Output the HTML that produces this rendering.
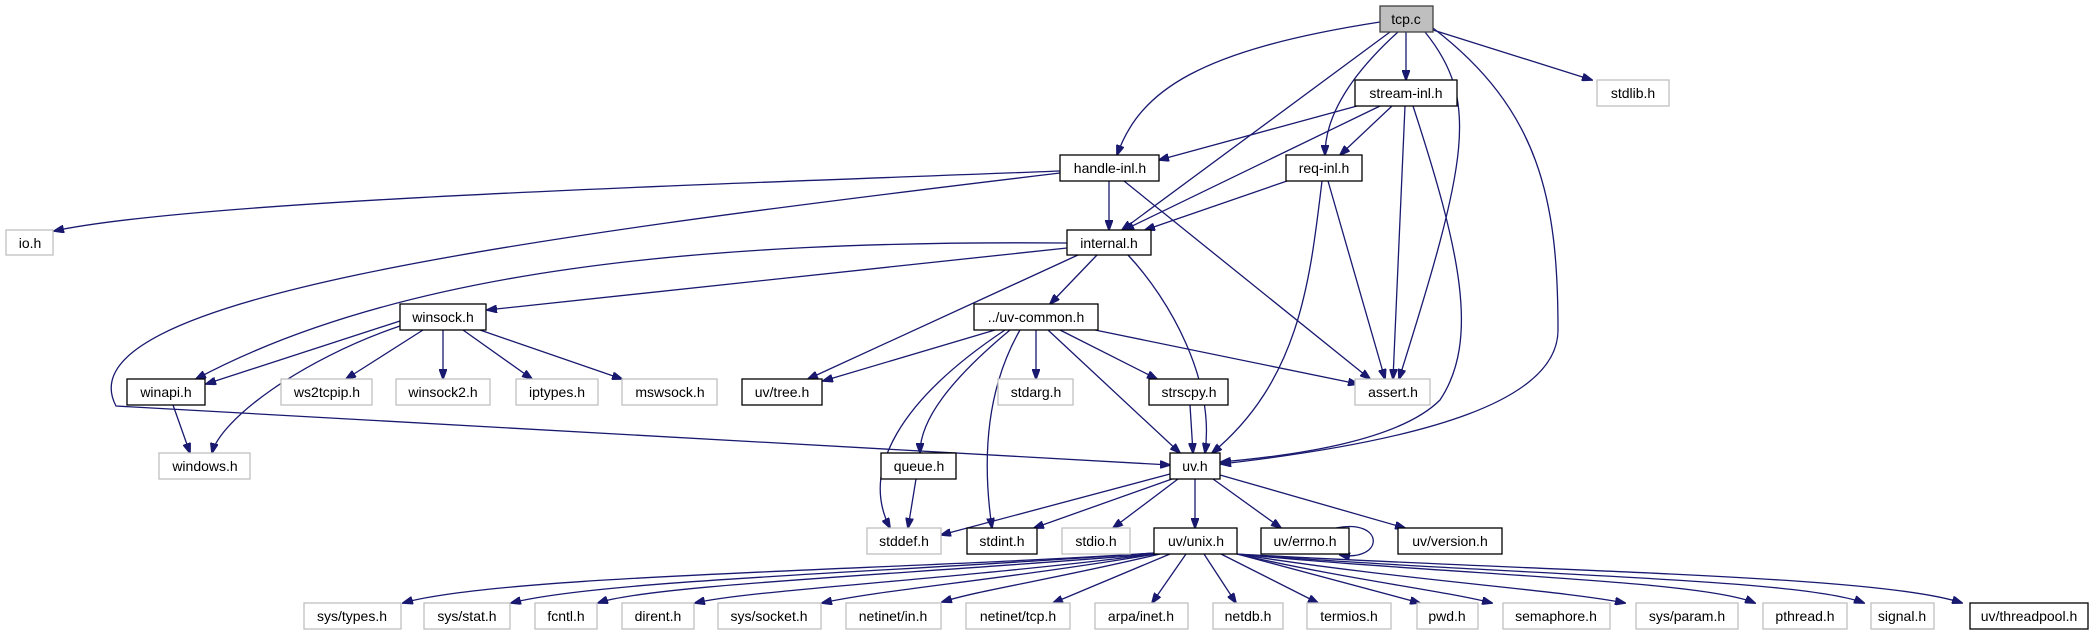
<!DOCTYPE html>
<html><head><meta charset="utf-8"><style>
html,body{margin:0;padding:0;background:#fff;}
svg{display:block;}
text{font-family:"Liberation Sans","DejaVu Sans",sans-serif;font-size:14px;fill:#000;text-anchor:middle;}
.b{fill:#fff;stroke:#000;stroke-width:1.3;}
.g{fill:#fff;stroke:#bfbfbf;stroke-width:1.3;}
.e{fill:none;stroke:#191970;stroke-width:1.3;marker-end:url(#a);}
</style></head><body>
<svg width="2092" height="635" viewBox="0 0 2092 635" xmlns="http://www.w3.org/2000/svg">
<defs><marker id="a" markerUnits="userSpaceOnUse" markerWidth="11" markerHeight="8" refX="10" refY="4" orient="auto"><path d="M0,0 L11,4 L0,8 z" fill="#191970" stroke="#191970"/></marker></defs>
<!-- edges -->
<path class="e" d="M1380 22 C1200 50 1140 90 1117 155"/>
<path class="e" d="M1406 32 L1406 80"/>
<path class="e" d="M1433 30 L1592 80"/>
<path class="e" d="M1390 32 L1122 230"/>
<path class="e" d="M1398 32 C1345 80 1325 120 1325 155"/>
<path class="e" d="M1425 32 C1480 100 1468 160 1399 379"/>
<path class="e" d="M1433 28 C1540 110 1558 200 1558 330 C1558 400 1430 440 1221 464"/>
<path class="e" d="M1357 106 L1159 160"/>
<path class="e" d="M1380 106 L1124 230"/>
<path class="e" d="M1392 106 L1340 155"/>
<path class="e" d="M1405 106 L1393 379"/>
<path class="e" d="M1413 106 C1460 250 1480 340 1440 400 C1400 440 1300 455 1221 462"/>
<path class="e" d="M1060 171 C700 185 200 200 54 231"/>
<path class="e" d="M1060 173 C500 240 60 300 116 406 L1170 465"/>
<path class="e" d="M1109 181 L1109 230"/>
<path class="e" d="M1124 181 L1370 379"/>
<path class="e" d="M1287 181 L1145 230"/>
<path class="e" d="M1328 181 L1385 379"/>
<path class="e" d="M1322 181 C1310 280 1300 380 1212 453"/>
<path class="e" d="M1067 243 C700 240 400 270 196 379"/>
<path class="e" d="M1067 248 L487 310"/>
<path class="e" d="M1078 255 L808 379"/>
<path class="e" d="M1097 255 L1050 304"/>
<path class="e" d="M1128 255 C1170 300 1215 380 1205 453"/>
<path class="e" d="M400 321 L206 384"/>
<path class="e" d="M400 326 C300 360 220 420 212 453"/>
<path class="e" d="M423 330 L346 379"/>
<path class="e" d="M443 330 L443 379"/>
<path class="e" d="M463 330 L532 379"/>
<path class="e" d="M480 330 L622 379"/>
<path class="e" d="M173 405 L190 453"/>
<path class="e" d="M995 330 L823 381"/>
<path class="e" d="M1005 330 C900 400 860 470 890 528"/>
<path class="e" d="M1010 330 C950 380 920 420 920 453"/>
<path class="e" d="M1020 330 C980 400 985 480 992 528"/>
<path class="e" d="M1036 330 L1036 379"/>
<path class="e" d="M1048 330 L1180 453"/>
<path class="e" d="M1060 330 L1157 379"/>
<path class="e" d="M1095 330 L1358 384"/>
<path class="e" d="M1190 405 L1193 453"/>
<path class="e" d="M916 479 L908 528"/>
<path class="e" d="M1170 474 L941 535"/>
<path class="e" d="M1172 479 L1034 528"/>
<path class="e" d="M1178 479 L1113 528"/>
<path class="e" d="M1195 479 L1195 528"/>
<path class="e" d="M1213 479 L1281 528"/>
<path class="e" d="M1220 475 L1405 528"/>
<path class="e" d="M1336 528 C1385 518 1385 562 1340 555"/>
<path class="e" d="M1154 553 C900 570 500 575 403 603"/>
<path class="e" d="M1154 553 C900 572 600 580 511 603"/>
<path class="e" d="M1154 554 C900 575 650 585 598 603"/>
<path class="e" d="M1155 554 C950 580 750 590 695 603"/>
<path class="e" d="M1156 554 C1000 580 880 590 822 603"/>
<path class="e" d="M1160 554 C1050 580 980 590 942 602"/>
<path class="e" d="M1170 554 L1053 603"/>
<path class="e" d="M1186 554 L1152 603"/>
<path class="e" d="M1204 554 L1236 603"/>
<path class="e" d="M1221 554 L1318 603"/>
<path class="e" d="M1237 554 L1420 603"/>
<path class="e" d="M1237 554 C1350 580 1440 590 1492 603"/>
<path class="e" d="M1237 554 C1400 580 1560 590 1625 603"/>
<path class="e" d="M1237 554 C1450 575 1700 580 1755 603"/>
<path class="e" d="M1237 554 C1500 575 1800 578 1864 603"/>
<path class="e" d="M1237 554 C1550 572 1880 575 1962 603"/>
<!-- nodes -->
<rect x="1380" y="6" width="53" height="26" fill="#bfbfbf" stroke="#404040" stroke-width="1.3"/><text x="1406" y="24">tcp.c</text>
<rect class="b" x="1355" y="80" width="102" height="26"/><text x="1406" y="98">stream-inl.h</text>
<rect class="g" x="1597" y="80" width="72" height="26"/><text x="1633" y="98">stdlib.h</text>
<rect class="b" x="1060" y="155" width="99" height="26"/><text x="1110" y="173">handle-inl.h</text>
<rect class="b" x="1286" y="155" width="76" height="26"/><text x="1324" y="173">req-inl.h</text>
<rect class="g" x="6" y="230" width="47" height="25"/><text x="30" y="248">io.h</text>
<rect class="b" x="1067" y="230" width="84" height="25"/><text x="1109" y="248">internal.h</text>
<rect class="b" x="400" y="304" width="86" height="26"/><text x="443" y="322">winsock.h</text>
<rect class="b" x="974" y="304" width="124" height="26"/><text x="1036" y="322">../uv-common.h</text>
<rect class="b" x="127" y="379" width="78" height="26"/><text x="166" y="397">winapi.h</text>
<rect class="g" x="281" y="379" width="91" height="26"/><text x="327" y="397">ws2tcpip.h</text>
<rect class="g" x="396" y="379" width="94" height="26"/><text x="443" y="397">winsock2.h</text>
<rect class="g" x="516" y="379" width="82" height="26"/><text x="557" y="397">iptypes.h</text>
<rect class="g" x="622" y="379" width="95" height="26"/><text x="670" y="397">mswsock.h</text>
<rect class="b" x="742" y="379" width="80" height="26"/><text x="782" y="397">uv/tree.h</text>
<rect class="g" x="998" y="379" width="75" height="26"/><text x="1036" y="397">stdarg.h</text>
<rect class="b" x="1149" y="379" width="79" height="26"/><text x="1189" y="397">strscpy.h</text>
<rect class="g" x="1355" y="379" width="75" height="26"/><text x="1393" y="397">assert.h</text>
<rect class="g" x="159" y="453" width="91" height="26"/><text x="205" y="471">windows.h</text>
<rect class="b" x="881" y="453" width="75" height="26"/><text x="919" y="471">queue.h</text>
<rect class="b" x="1170" y="453" width="50" height="26"/><text x="1195" y="471">uv.h</text>
<rect class="g" x="867" y="528" width="74" height="26"/><text x="904" y="546">stddef.h</text>
<rect class="b" x="967" y="528" width="70" height="26"/><text x="1002" y="546">stdint.h</text>
<rect class="g" x="1062" y="528" width="68" height="26"/><text x="1096" y="546">stdio.h</text>
<rect class="b" x="1154" y="528" width="83" height="26"/><text x="1196" y="546">uv/unix.h</text>
<rect class="b" x="1261" y="528" width="88" height="26"/><text x="1305" y="546">uv/errno.h</text>
<rect class="b" x="1398" y="528" width="104" height="26"/><text x="1450" y="546">uv/version.h</text>
<rect class="g" x="304" y="603" width="97" height="26"/><text x="352" y="621">sys/types.h</text>
<rect class="g" x="424" y="603" width="86" height="26"/><text x="467" y="621">sys/stat.h</text>
<rect class="g" x="535" y="603" width="62" height="26"/><text x="566" y="621">fcntl.h</text>
<rect class="g" x="622" y="603" width="72" height="26"/><text x="658" y="621">dirent.h</text>
<rect class="g" x="718" y="603" width="103" height="26"/><text x="769" y="621">sys/socket.h</text>
<rect class="g" x="846" y="603" width="95" height="26"/><text x="893" y="621">netinet/in.h</text>
<rect class="g" x="966" y="603" width="104" height="26"/><text x="1018" y="621">netinet/tcp.h</text>
<rect class="g" x="1095" y="603" width="93" height="26"/><text x="1141" y="621">arpa/inet.h</text>
<rect class="g" x="1213" y="603" width="70" height="26"/><text x="1248" y="621">netdb.h</text>
<rect class="g" x="1307" y="603" width="84" height="26"/><text x="1349" y="621">termios.h</text>
<rect class="g" x="1417" y="603" width="61" height="26"/><text x="1447" y="621">pwd.h</text>
<rect class="g" x="1503" y="603" width="107" height="26"/><text x="1556" y="621">semaphore.h</text>
<rect class="g" x="1636" y="603" width="102" height="26"/><text x="1687" y="621">sys/param.h</text>
<rect class="g" x="1763" y="603" width="84" height="26"/><text x="1805" y="621">pthread.h</text>
<rect class="g" x="1871" y="603" width="63" height="26"/><text x="1902" y="621">signal.h</text>
<rect class="b" x="1970" y="603" width="118" height="26"/><text x="2029" y="621">uv/threadpool.h</text>
</svg>
</body></html>
